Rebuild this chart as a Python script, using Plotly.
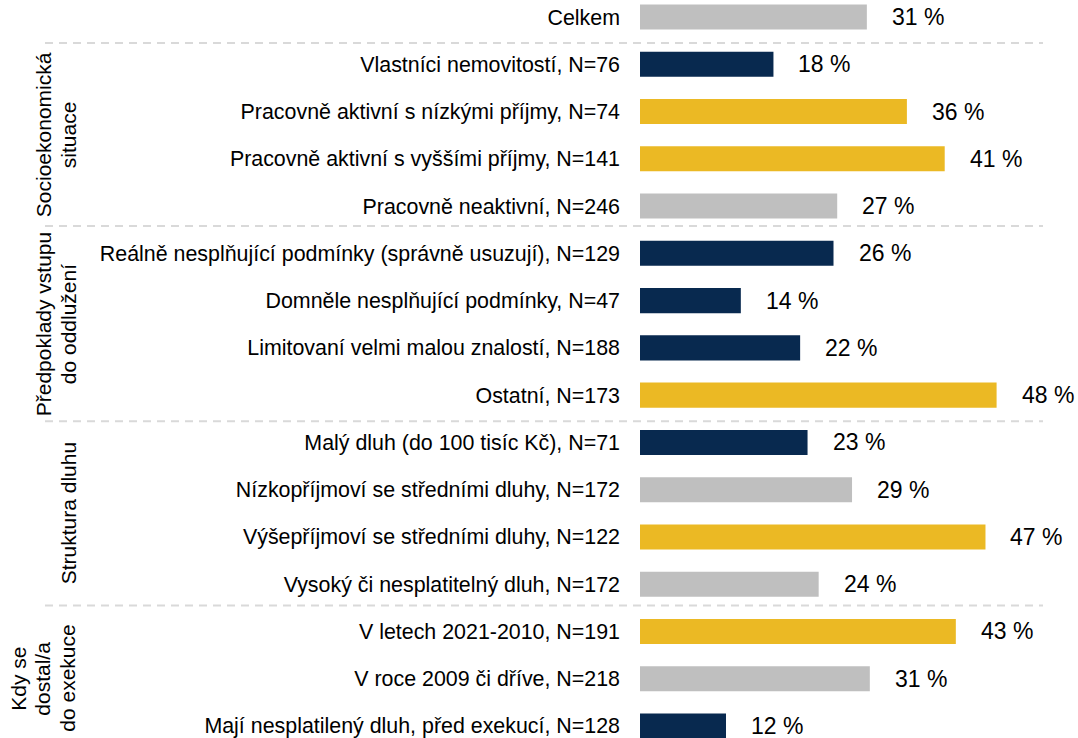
import plotly.graph_objects as go

categories = [
    "Celkem",
    "Vlastníci nemovitostí, N=76",
    "Pracovně aktivní s nízkými příjmy, N=74",
    "Pracovně aktivní s vyššími příjmy, N=141",
    "Pracovně neaktivní, N=246",
    "Reálně nesplňující podmínky (správně usuzují), N=129",
    "Domněle nesplňující podmínky, N=47",
    "Limitovaní velmi malou znalostí, N=188",
    "Ostatní, N=173",
    "Malý dluh (do 100 tisíc Kč), N=71",
    "Nízkopříjmoví se středními dluhy, N=172",
    "Výšepříjmoví se středními dluhy, N=122",
    "Vysoký či nesplatitelný dluh, N=172",
    "V letech 2021-2010, N=191",
    "V roce 2009 či dříve, N=218",
    "Mají nesplatilený dluh, před exekucí, N=128",
]
values = [30.6, 18.0, 36.0, 41.1, 26.6, 26.1, 13.6, 21.6, 48.1,
          22.6, 28.6, 46.6, 24.1, 42.6, 31.0, 11.6]
color_groups = ["gray", "navy", "gold", "gold", "gray", "navy", "navy", "navy",
                "gold", "navy", "gray", "gold", "gray", "gold", "gray", "navy"]

group_lines = [
    ["Socioekonomická", "situace"],
    ["Předpoklady vstupu", "do oddlužení"],
    ["Struktura dluhu"],
    ["Kdy se", "dostal/a", "do exekuce"],
]
group_rows = [(1, 4), (5, 8), (9, 12), (13, 15)]
separators = [0.55, 4.42, 8.55, 12.45]

palette = {"gray": "#BFBFBF", "navy": "#08294F", "gold": "#EBB924"}
FONT = "Arial, Liberation Sans, sans-serif"

fig = go.Figure()
fig.add_trace(go.Bar(
    x=values, y=categories, orientation="h",
    marker=dict(color=[palette[c] for c in color_groups], line=dict(width=0)),
    width=0.53, hoverinfo="skip",
))

annotations = []
for c, v in zip(categories, values):
    annotations.append(dict(
        x=v, y=c, xref="x", yref="y", text=f"{round(v)} %",
        showarrow=False, xanchor="left", yanchor="middle", xshift=23,
        font=dict(family=FONT, size=23, color="#000000"),
    ))

# group labels, rotated, one annotation per line
line_x_px = [68, 43, 19]  # last line, second last, third last
plot_left = 640
plot_w = 1078 - 640 - 8
for lines, (r0, r1) in zip(group_lines, group_rows):
    yc = (r0 + r1) / 2
    n = len(lines)
    for i, ln in enumerate(lines):
        px = line_x_px[n - 1 - i]
        annotations.append(dict(
            x=(px - plot_left) / plot_w, y=yc, xref="paper", yref="y",
            text=ln, showarrow=False, textangle=-90,
            xanchor="center", yanchor="middle",
            font=dict(family=FONT, size=21, color="#000000"),
        ))

shapes = []
for s in separators:
    shapes.append(dict(
        type="line", xref="paper", yref="y",
        x0=(45 - plot_left) / plot_w, x1=(1043 - plot_left) / plot_w,
        y0=s, y1=s, line=dict(color="#D9D9D9", width=2, dash="8px,6px"),
    ))

fig.update_layout(
    width=1078, height=738,
    margin=dict(l=640, r=8, t=0, b=0),
    plot_bgcolor="white", paper_bgcolor="white",
    showlegend=False,
    annotations=annotations, shapes=shapes,
    xaxis=dict(range=[0, 58], visible=False, fixedrange=True),
    yaxis=dict(
        type="category", categoryorder="array", categoryarray=categories,
        range=[15.254, -0.36], showgrid=False, zeroline=False, showline=False,
        ticks="", ticklabelstandoff=19, fixedrange=True,
        tickfont=dict(family=FONT, size=21.4, color="#000000"),
    ),
)

fig.write_html(
    "out.html",
    config={"displayModeBar": False},
    post_script="document.body.style.margin='0';document.body.style.overflow='hidden';",
)
